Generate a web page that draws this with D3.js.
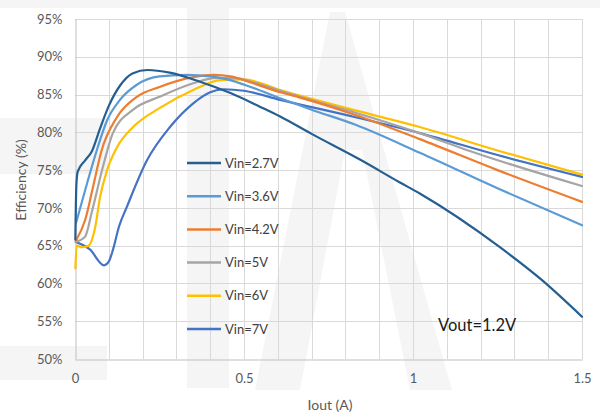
<!DOCTYPE html>
<html>
<head>
<meta charset="utf-8">
<script src="https://cdn.jsdelivr.net/npm/d3@7"></script>
<style>
  html, body { margin: 0; padding: 0; background: #fff; }
  svg { display: block; font-family: Lato, "Open Sans", sans-serif; }
</style>
</head>
<body>
<svg id="chart" width="600" height="413"></svg>
<script>
// ---- data ----
const seriesNames = ["Vin=2.7V", "Vin=3.6V", "Vin=4.2V", "Vin=5V", "Vin=6V", "Vin=7V"];
const seriesColors = ["#255e91", "#5b9bd5", "#ed7d31", "#a5a5a5", "#ffc000", "#4472c4"];

const vin27 = [[0.001,65.8],[0.004,73.0],[0.008,74.8],[0.03,76.3],[0.05,77.5],[0.074,80.5],[0.1,83.5],[0.135,86.3],[0.17,87.8],[0.215,88.25],[0.28,87.9],[0.37,86.7],[0.46,85.2],[0.547,83.4],[0.607,82.1],[0.7,79.8],[0.843,76.4],[0.96,73.4],[1.02,71.9],[1.257,64.8],[1.38,60.5],[1.5,55.6]];
const vin36 = [[0.003,68.0],[0.036,73.3],[0.065,77.7],[0.095,81.6],[0.133,84.3],[0.183,86.3],[0.25,87.4],[0.33,87.6],[0.4,87.4],[0.45,87.0],[0.52,86.0],[0.607,84.5],[0.7,83.0],[0.83,81.0],[1.02,77.3],[1.25,72.6],[1.5,67.7]];
const vin42 = [[0.003,65.7],[0.03,68.4],[0.053,72.7],[0.078,77.5],[0.124,82.0],[0.183,84.7],[0.25,86.0],[0.35,87.3],[0.41,87.6],[0.46,87.4],[0.52,86.6],[0.607,85.3],[0.666,84.6],[0.83,82.3],[1.02,79.1],[1.25,75.0],[1.5,70.8]];
const vin5  = [[0.003,65.5],[0.03,66.2],[0.05,69.5],[0.083,75.5],[0.112,79.9],[0.172,83.0],[0.25,84.7],[0.35,86.5],[0.42,87.2],[0.47,87.2],[0.53,86.6],[0.607,85.5],[0.666,84.7],[0.83,82.6],[1.02,79.9],[1.17,77.5],[1.5,72.9]];
const vin6  = [[0.001,62.0],[0.005,65.0],[0.02,64.8],[0.04,65.0],[0.06,67.5],[0.074,71.4],[0.095,75.0],[0.124,78.0],[0.172,80.7],[0.25,83.2],[0.35,85.6],[0.43,86.9],[0.5,87.0],[0.607,85.6],[0.83,82.9],[1.02,80.7],[1.25,77.6],[1.5,74.4]];
const vin7  = [[0.002,65.5],[0.044,64.5],[0.086,62.4],[0.1,62.9],[0.112,64.4],[0.13,67.5],[0.154,70.2],[0.213,76.3],[0.281,80.7],[0.349,83.8],[0.4,85.3],[0.44,85.7],[0.5,85.5],[0.607,84.3],[0.83,82.0],[1.02,79.9],[1.25,77.0],[1.5,74.1]];
const seriesData = [vin27, vin36, vin42, vin5, vin6, vin7];

const xTicks = [0, 0.5, 1, 1.5];
const xTickLabels = ["0", "0.5", "1", "1.5"];
const xGrid = [0.1,0.2,0.3,0.4,0.5,0.6,0.7,0.8,0.9,1.0,1.1,1.2,1.3,1.4,1.5];
const yTicks = [50,55,60,65,70,75,80,85,90,95];
const yTickLabels = ["50%","55%","60%","65%","70%","75%","80%","85%","90%","95%"];
const annotation = "Vout=1.2V";

// ---- drawing ----
const svg = d3.select("#chart");
const x = d3.scaleLinear().domain([0, 1.5]).range([75, 582]);
const y = d3.scaleLinear().domain([50, 95]).range([359, 19]);

// faint watermark
const wm = svg.append("g").attr("fill", "#f5f5f5");
wm.append("rect").attr("x", 0).attr("y", 0).attr("width", 600).attr("height", 8);
wm.append("rect").attr("x", 0).attr("y", 118).attr("width", 108).attr("height", 56);
wm.append("rect").attr("x", 0).attr("y", 346).attr("width", 107).attr("height", 34);
wm.append("rect").attr("x", 187).attr("y", 8).attr("width", 42).attr("height", 380);
wm.append("polygon").attr("points", "330,12 345,12 452,390 410,390 362,150 345,150 300,390 255,390");

// gridlines
const grid = svg.append("g").attr("stroke", "#d9d9d9").attr("stroke-width", 1);
grid.selectAll("line.h").data(yTicks.slice(1)).join("line")
  .attr("x1", x(0)).attr("x2", x(1.5))
  .attr("y1", d => Math.round(y(d)) + 0.5).attr("y2", d => Math.round(y(d)) + 0.5);
grid.selectAll("line.v").data(xGrid).join("line")
  .attr("y1", y(95)).attr("y2", y(50))
  .attr("x1", d => Math.round(x(d)) + 0.5).attr("x2", d => Math.round(x(d)) + 0.5);

// axes
const xAxis = d3.axisBottom(x).tickValues(xTicks).tickFormat((d, i) => xTickLabels[i]).tickSize(0).tickPadding(14);
const gx = svg.append("g").attr("transform", `translate(0,${Math.round(y(50)) + 0.5})`).call(xAxis);
gx.select(".domain").attr("stroke", "#bfbfbf");
gx.selectAll("text").attr("fill", "#595959").style("font-size", "13px").style("font-family", "Lato, sans-serif");

const yAxis = d3.axisLeft(y).tickValues(yTicks).tickFormat((d, i) => yTickLabels[i]).tickSize(0).tickPadding(13);
const gy = svg.append("g").attr("transform", `translate(${Math.round(x(0)) + 0.5},0)`).call(yAxis);
gy.select(".domain").attr("stroke", "#bfbfbf");
gy.selectAll("text").attr("fill", "#595959").style("font-size", "13px").style("font-family", "Lato, sans-serif");

// lines
const line = d3.line().x(d => x(d[0])).y(d => y(d[1])).curve(d3.curveMonotoneX);
const drawOrder = [5, 4, 3, 2, 1, 0];
svg.append("g").selectAll("path").data(drawOrder).join("path")
  .attr("d", i => line(seriesData[i]))
  .attr("fill", "none")
  .attr("stroke", i => seriesColors[i])
  .attr("stroke-width", 2.2)
  .attr("stroke-linejoin", "round")
  .attr("stroke-linecap", "round");

// legend
const leg = svg.append("g");
const legY = d3.scalePoint().domain(seriesNames).range([163, 329]);
seriesNames.forEach((n, i) => {
  leg.append("line").attr("x1", 187).attr("x2", 221)
    .attr("y1", legY(n)).attr("y2", legY(n))
    .attr("stroke", seriesColors[i]).attr("stroke-width", 2.5);
  leg.append("text").attr("x", 225).attr("y", legY(n)).attr("dy", "0.35em")
    .attr("fill", "#404040").style("font-size", "13px").text(n);
});

// annotation
svg.append("text").attr("x", 438).attr("y", 325).attr("dy", "0.35em")
  .attr("fill", "#1a1a1a").style("font-size", "16.5px").text(annotation);

// axis titles
svg.append("text").attr("x", 330).attr("y", 405).attr("dy", "0.35em").attr("text-anchor", "middle")
  .attr("fill", "#595959").style("font-size", "14px").text("Iout (A)");
svg.append("text").attr("transform", "translate(21,180) rotate(-90)").attr("dy", "0.35em").attr("text-anchor", "middle")
  .attr("fill", "#595959").style("font-size", "14px").text("Efficiency (%)");
</script>
</body>
</html>
